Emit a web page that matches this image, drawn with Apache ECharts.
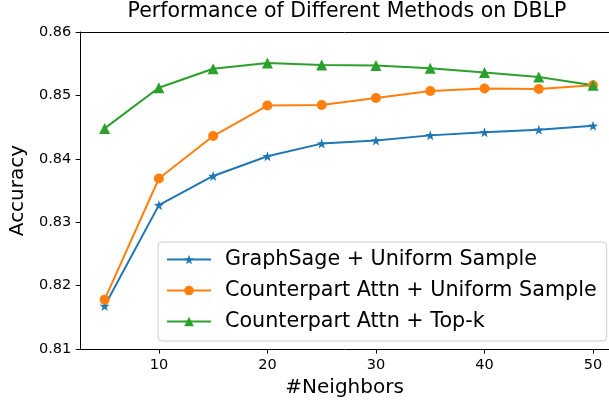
<!DOCTYPE html>
<html><head><meta charset="utf-8">
<script src="https://cdn.jsdelivr.net/npm/echarts@6/dist/echarts.min.js"></script>
<style>html,body{margin:0;padding:0;background:#fff}#c{width:609px;height:403px}</style>
</head><body><div id="c"></div>
<script>
const neighbors = [5, 10, 15, 20, 25, 30, 35, 40, 45, 50];
const graphSageUniform = [0.8168, 0.8327, 0.8373, 0.8404, 0.8424, 0.8429, 0.8437, 0.8442, 0.8446, 0.8452];
const attnUniform = [0.8178, 0.8369, 0.8436, 0.8484, 0.8485, 0.8496, 0.8507, 0.8511, 0.8510, 0.8516];
const attnTopK = [0.8448, 0.8512, 0.8542, 0.8551, 0.8548, 0.8547, 0.8543, 0.8536, 0.8529, 0.8516];
const xTicks = [10, 20, 30, 40, 50];
const seriesNames = ['GraphSage + Uniform Sample', 'Counterpart Attn + Uniform Sample', 'Counterpart Attn + Top-k'];

const pair = arr => neighbors.map((n, i) => [n, arr[i]]);
const font = 'DejaVu Sans';
const chart = echarts.init(document.getElementById('c'), null, {renderer: 'canvas'});
const mk = (name, data, color, symbol, size) => ({
  name, type: 'line', data: pair(data), symbol, symbolSize: size,
  lineStyle: {color, width: 2}, itemStyle: {color}, animation: false, z: 3
});
const X_MIN = 2.75, X_MAX = 51.47;
chart.setOption({
  animation: false,
  title: {text: 'Performance of Different Methods on DBLP', left: 347, textAlign: 'center', top: 1, padding: 0,
    textStyle: {fontFamily: font, fontSize: 20.5, fontWeight: 'normal', color: '#000'}},
  grid: {left: 77, top: 32, bottom: 52, right: 0, show: false},
  legend: {
    orient: 'vertical', left: 158, top: 242,
    backgroundColor: '#fff', borderColor: '#ccc', borderWidth: 1, borderRadius: 4,
    padding: [7, 10, 9, 8], itemWidth: 44, itemHeight: 12, itemGap: 10,
    textStyle: {fontFamily: font, fontSize: 20.7, color: '#000', padding: [0, 0, 0, 9]},
    data: seriesNames
  },
  xAxis: [{
    type: 'value', min: X_MIN, max: X_MAX,
    name: '#Neighbors', nameLocation: 'middle', nameGap: 28,
    nameTextStyle: {fontFamily: font, fontSize: 20, color: '#000'},
    axisLine: {show: true, onZero: false, lineStyle: {color: '#000'}},
    axisTick: {show: true, length: 4.5, customValues: xTicks, lineStyle: {color: '#000'}},
    axisLabel: {customValues: xTicks, fontFamily: font, fontSize: 14.5, color: '#000', margin: 9},
    splitLine: {show: false}
  }, {
    type: 'value', min: X_MIN, max: X_MAX, position: 'top',
    axisLine: {show: true, onZero: false, lineStyle: {color: '#000'}},
    axisTick: {show: false}, axisLabel: {show: false}, splitLine: {show: false}
  }],
  yAxis: {
    type: 'value', min: 0.81, max: 0.86, interval: 0.01,
    name: 'Accuracy', nameLocation: 'middle', nameGap: 52, nameRotate: 90,
    nameTextStyle: {fontFamily: font, fontSize: 20, color: '#000'},
    axisLine: {show: true, lineStyle: {color: '#000'}},
    axisTick: {show: true, length: 4.5, lineStyle: {color: '#000'}},
    axisLabel: {fontFamily: font, fontSize: 14.5, color: '#000', margin: 9, formatter: v => v.toFixed(2)},
    splitLine: {show: false}
  },
  series: [
    mk(seriesNames[0], graphSageUniform, '#1f77b4', 'path://M0,-10 L2.35,-3.24 L9.51,-3.09 L3.8,1.24 L5.88,8.09 L0,4 L-5.88,8.09 L-3.8,1.24 L-9.51,-3.09 L-2.35,-3.24 Z', 10),
    mk(seriesNames[1], attnUniform, '#ff7f0e', 'circle', 10),
    mk(seriesNames[2], attnTopK, '#2ca02c', 'triangle', 11)
  ]
});
</script></body></html>
